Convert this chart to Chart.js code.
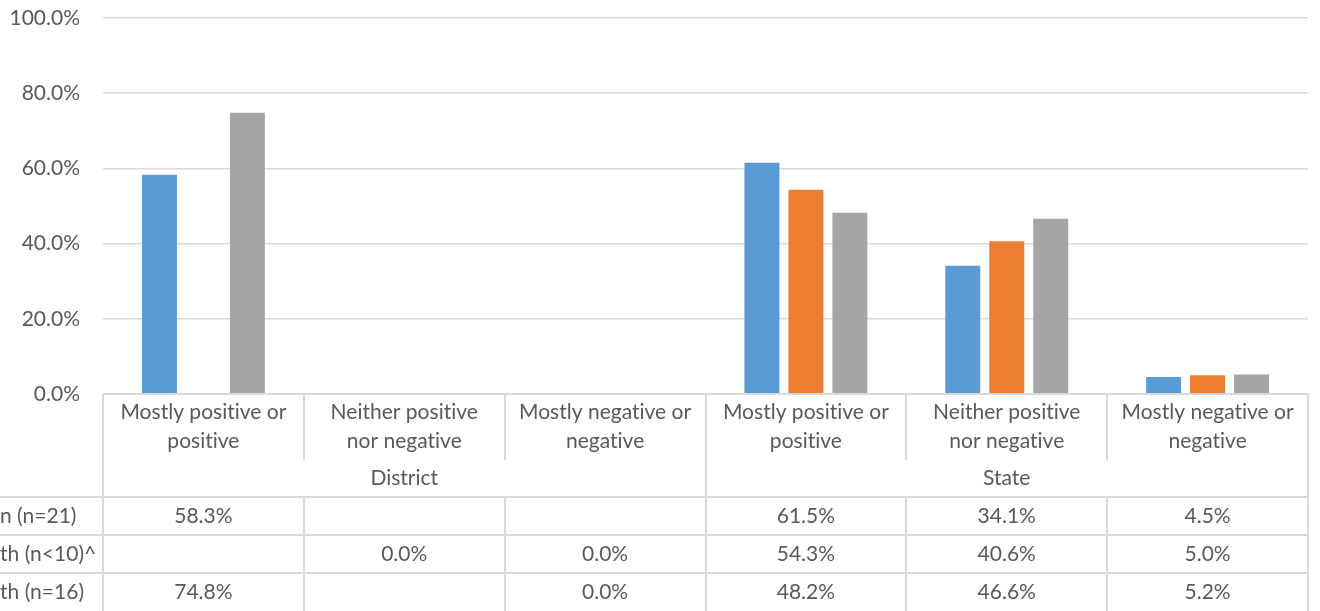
<!DOCTYPE html>
<html>
<head>
<meta charset="utf-8">
<script src="https://cdn.jsdelivr.net/npm/chart.js@4.4.1/dist/chart.umd.min.js"></script>
<style>
  html, body { margin: 0; padding: 0; background: #fff; }
  #wrap { width: 1320px; height: 611px; }
</style>
</head>
<body>
<div id="wrap"><canvas id="chart" width="1320" height="611"></canvas></div>
<script>
// categories (two lines each) and the group they belong to
const categories = [
  ['Mostly positive or', 'positive'],
  ['Neither positive', 'nor negative'],
  ['Mostly negative or', 'negative'],
  ['Mostly positive or', 'positive'],
  ['Neither positive', 'nor negative'],
  ['Mostly negative or', 'negative']
];
const groups = ['District', 'State'];
const groupSize = 3;

// row labels of the data table (left part is cut off)
const seriesNames = ['n (n=21)', 'th (n<10)^', 'th (n=16)'];

const seriesA = [58.3, null, null, 61.5, 34.1, 4.5];
const seriesB = [null, 0.0, 0.0, 54.3, 40.6, 5.0];
const seriesC = [74.8, null, 0.0, 48.2, 46.6, 5.2];

const yTicks = [0, 20, 40, 60, 80, 100];

const colors = ['#5B9BD5', '#ED7D31', '#A5A5A5'];
const textColor = '#595959';
const lineColor = '#D9D9D9';
const fontFamily = 'Lato, "Open Sans", sans-serif';
const fontSize = 21;

const seriesData = [seriesA, seriesB, seriesC];

const fmt = v => v.toFixed(1) + '%';

// draws the category labels, group labels and the data table below the plot
const dataTable = {
  id: 'dataTable',
  afterDraw(chart) {
    const ctx = chart.ctx;
    const area = chart.chartArea;
    const xs = chart.scales.x;
    const colW = (area.right - area.left) / categories.length;
    const top = area.bottom;
    const headH = 66, groupH = 37, rowH = 38;
    const groupTop = top + headH;
    const rowsTop = groupTop + groupH;

    ctx.save();
    ctx.strokeStyle = lineColor;
    ctx.lineWidth = 2;

    const line = (x1, y1, x2, y2) => {
      ctx.beginPath();
      ctx.moveTo(x1, y1);
      ctx.lineTo(x2, y2);
      ctx.stroke();
    };

    // vertical lines
    for (let i = 0; i <= categories.length; i++) {
      const x = Math.round(area.left + i * colW);
      if (i % groupSize === 0) {
        line(x, top, x, chart.height);
      } else {
        line(x, top, x, groupTop);
        line(x, rowsTop, x, chart.height);
      }
    }
    // horizontal lines
    line(area.left, top, area.right, top);
    for (let r = 0; r < seriesNames.length; r++) {
      const y = Math.round(rowsTop + r * rowH);
      line(0, y, area.right, y);
    }

    ctx.fillStyle = textColor;
    ctx.font = fontSize + 'px ' + fontFamily;
    ctx.letterSpacing = '0.01px'; // no "ti" ligature
    ctx.textAlign = 'center';
    ctx.textBaseline = 'middle';

    categories.forEach((lines, i) => {
      const cx = xs.getPixelForValue(i);
      lines.forEach((t, k) => ctx.fillText(t, cx, top + 18 + k * 29));
    });

    groups.forEach((g, gi) => {
      const cx = area.left + (gi * groupSize + groupSize / 2) * colW;
      ctx.fillText(g, cx, groupTop + groupH / 2);
    });

    seriesData.forEach((vals, r) => {
      const cy = rowsTop + r * rowH + rowH / 2;
      vals.forEach((v, i) => {
        if (v === null) return;
        ctx.fillText(fmt(v), xs.getPixelForValue(i), cy);
      });
    });

    ctx.textAlign = 'left';
    seriesNames.forEach((n, r) => {
      ctx.fillText(n, 0, rowsTop + r * rowH + rowH / 2);
    });

    ctx.restore();
  }
};

const whiteBg = {
  id: 'whiteBg',
  beforeDraw(chart) {
    const ctx = chart.ctx;
    ctx.save();
    ctx.fillStyle = '#fff';
    ctx.fillRect(0, 0, chart.width, chart.height);
    ctx.restore();
  }
};

new Chart(document.getElementById('chart'), {
  type: 'bar',
  data: {
    labels: categories.map(c => c.join(' ')),
    datasets: seriesNames.map((n, i) => ({
      label: n,
      data: seriesData[i],
      backgroundColor: colors[i],
      borderWidth: 0,
      categoryPercentage: 0.657,
      barPercentage: 0.795
    }))
  },
  options: {
    responsive: false,
    animation: false,
    layout: { padding: { top: 18, right: 12, left: 0, bottom: 0 } },
    plugins: {
      legend: { display: false },
      tooltip: { enabled: false }
    },
    scales: {
      x: {
        grid: { display: false },
        border: { display: false },
        ticks: { display: false },
        afterFit(scale) { scale.height = 217; }
      },
      y: {
        min: 0,
        max: 100,
        afterBuildTicks(scale) { scale.ticks = yTicks.map(v => ({ value: v })); },
        afterFit(scale) {
          scale.width = 103;
          scale.paddingTop = 0;
          scale.paddingBottom = 0;
        },
        grid: { color: lineColor, lineWidth: 1.5, drawTicks: false },
        border: { display: false },
        ticks: {
          padding: 23,
          color: textColor,
          font: { family: fontFamily, size: fontSize },
          callback: v => fmt(v)
        }
      }
    }
  },
  plugins: [whiteBg, dataTable]
});
</script>
</body>
</html>
